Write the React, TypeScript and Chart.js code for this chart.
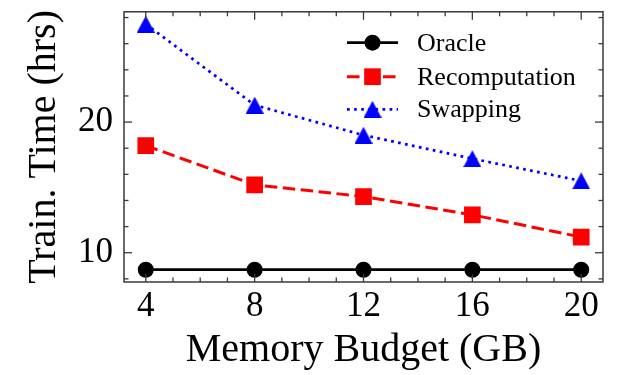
import React, { useEffect, useRef } from "react";
import { Chart, registerables } from "chart.js";

Chart.register(...registerables);

// Memory budget (GB) on the x axis
const memoryBudgets = [4, 8, 12, 16, 20];
// Training time (hours) per strategy
const oracleHours = [8.7, 8.7, 8.7, 8.7, 8.7];
const recomputationHours = [18.2, 15.2, 14.3, 12.9, 11.2];
const swappingHours = [27.5, 21.3, 19.0, 17.2, 15.5];
const seriesLabels = ["Oracle", "Recomputation", "Swapping"];

// Tick positions
const xMajorTicks = [4, 8, 12, 16, 20];
const xMinorTicks = [5, 6, 7, 9, 10, 11, 13, 14, 15, 17, 18, 19];
const yMajorTicks = [10, 20];
const yMinorTicks = [8, 12, 14, 16, 18, 22, 24, 26, 28];

const SERIF = "'Liberation Serif', 'Times New Roman', serif";

// axis limits with a 5% margin around the data
const xMin = 3.2;
const xMax = 20.8;
const yMin = 7.76;
const yMax = 28.44;

function makeTriangle(color: string): HTMLCanvasElement {
  const c = document.createElement("canvas");
  c.width = 18;
  c.height = 17;
  const g = c.getContext("2d")!;
  g.fillStyle = color;
  g.beginPath();
  g.moveTo(9, 0);
  g.lineTo(18, 17);
  g.lineTo(0, 17);
  g.closePath();
  g.fill();
  return c;
}

const frameAndLegend = {
  id: "frameAndLegend",
  afterDatasetsDraw(chart: any) {
    const { ctx, chartArea: a, scales } = chart;
    const xs = scales.x;
    const ys = scales.y;
    ctx.save();
    ctx.strokeStyle = "#3a3a3a";
    ctx.lineWidth = 1.5;
    ctx.setLineDash([]);
    ctx.strokeRect(a.left, a.top, a.right - a.left, a.bottom - a.top);

    const tick = (x1: number, y1: number, x2: number, y2: number) => {
      ctx.beginPath();
      ctx.moveTo(x1, y1);
      ctx.lineTo(x2, y2);
      ctx.stroke();
    };
    ctx.lineWidth = 1.3;
    const major = 8;
    const minor = 4.5;
    xMajorTicks.forEach((v) => {
      const p = xs.getPixelForValue(v);
      tick(p, a.bottom, p, a.bottom - major);
      tick(p, a.top, p, a.top + major);
    });
    xMinorTicks.forEach((v) => {
      const p = xs.getPixelForValue(v);
      tick(p, a.bottom, p, a.bottom - minor);
      tick(p, a.top, p, a.top + minor);
    });
    yMajorTicks.forEach((v) => {
      const p = ys.getPixelForValue(v);
      tick(a.left, p, a.left + major, p);
      tick(a.right, p, a.right - major, p);
    });
    yMinorTicks.forEach((v) => {
      const p = ys.getPixelForValue(v);
      tick(a.left, p, a.left + minor, p);
      tick(a.right, p, a.right - minor, p);
    });

    // legend in the upper right of the plot
    const rowY = [42.7, 76.7, 109.3];
    const lineX1 = 347;
    const lineX2 = 398;
    const markX = 372.5;
    const textX = 417;
    chart.data.datasets.forEach((ds: any, i: number) => {
      const y = rowY[i];
      ctx.strokeStyle = ds.borderColor;
      ctx.lineWidth = ds.borderWidth;
      ctx.setLineDash(ds.borderDash || []);
      tick(lineX1, y, lineX2, y);
      ctx.setLineDash([]);
      ctx.fillStyle = ds.backgroundColor;
      const ps = ds.pointStyle;
      if (ps === "circle") {
        ctx.beginPath();
        ctx.arc(markX, y, ds.pointRadius, 0, Math.PI * 2);
        ctx.fill();
      } else if (ps === "rect") {
        const s = ds.pointRadius * Math.SQRT1_2;
        ctx.fillRect(markX - s, y - s, 2 * s, 2 * s);
      } else if (ps instanceof HTMLCanvasElement) {
        ctx.drawImage(ps, markX - ps.width / 2, y - ps.height / 2);
      }
      ctx.fillStyle = "#000";
      ctx.font = `26px ${SERIF}`;
      ctx.textAlign = "left";
      ctx.textBaseline = "alphabetic";
      ctx.fillText(ds.label, textX, y + 8);
    });
    ctx.restore();
  },
};

export default function App() {
  const ref = useRef<HTMLCanvasElement>(null);

  useEffect(() => {
    const toPoints = (vals: number[]) =>
      memoryBudgets.map((x, i) => ({ x, y: vals[i] }));
    const chart = new Chart(ref.current!, {
      type: "line",
      data: {
        datasets: [
          {
            label: seriesLabels[0],
            data: toPoints(oracleHours),
            borderColor: "#000000",
            backgroundColor: "#000000",
            borderWidth: 2.7,
            pointStyle: "circle",
            pointRadius: 8,
            pointBorderWidth: 0,
          },
          {
            label: seriesLabels[1],
            data: toPoints(recomputationHours),
            borderColor: "#ff0000",
            backgroundColor: "#ff0000",
            borderWidth: 3,
            borderDash: [12.5, 5.5],
            pointStyle: "rect",
            pointRadius: 11.8,
            pointBorderWidth: 0,
          },
          {
            label: seriesLabels[2],
            data: toPoints(swappingHours),
            borderColor: "#0000ff",
            backgroundColor: "#0000ff",
            borderWidth: 2.7,
            borderDash: [2.7, 4.4],
            pointStyle: makeTriangle("#0000ff") as any,
            pointRadius: 9,
            pointBorderWidth: 0,
          },
        ],
      },
      options: {
        responsive: false,
        animation: false,
        devicePixelRatio: 1,
        layout: { padding: { top: 10.5, right: 20, left: 0, bottom: 0 } },
        plugins: {
          legend: { display: false },
          tooltip: { enabled: false },
        },
        scales: {
          x: {
            type: "linear",
            min: xMin,
            max: xMax,
            afterBuildTicks: (s: any) => {
              s.ticks = xMajorTicks.map((value) => ({ value }));
            },
            afterFit: (s: any) => {
              s.height = 93;
              s.paddingLeft = 0;
              s.paddingRight = 0;
            },
            grid: { display: false, drawTicks: false },
            border: { display: false },
            ticks: {
              color: "#000",
              font: { family: SERIF, size: 35 },
              padding: 4,
              maxRotation: 0,
              autoSkip: false,
            },
            title: {
              display: true,
              text: "Memory Budget (GB)",
              color: "#000",
              font: { family: SERIF, size: 40 },
              padding: { top: 0, bottom: 1 },
            },
          },
          y: {
            type: "linear",
            min: yMin,
            max: yMax,
            afterBuildTicks: (s: any) => {
              s.ticks = yMajorTicks.map((value) => ({ value }));
            },
            afterFit: (s: any) => {
              s.width = 124;
              s.paddingTop = 0;
              s.paddingBottom = 0;
            },
            grid: { display: false, drawTicks: false },
            border: { display: false },
            ticks: {
              color: "#000",
              font: { family: SERIF, size: 35 },
              padding: 11,
            },
            title: {
              display: true,
              text: "Train. Time (hrs)",
              color: "#000",
              font: { family: SERIF, size: 40 },
              padding: { top: 20, bottom: 0 },
            },
          },
        },
      },
      plugins: [frameAndLegend],
    });
    return () => chart.destroy();
  }, []);

  return (
    <div
      style={{
        position: "fixed",
        left: 0,
        top: 0,
        width: 623,
        height: 375,
        background: "#ffffff",
      }}
    >
      <canvas
        ref={ref}
        width={623}
        height={375}
        style={{ display: "block", width: 623, height: 375 }}
      />
    </div>
  );
}
